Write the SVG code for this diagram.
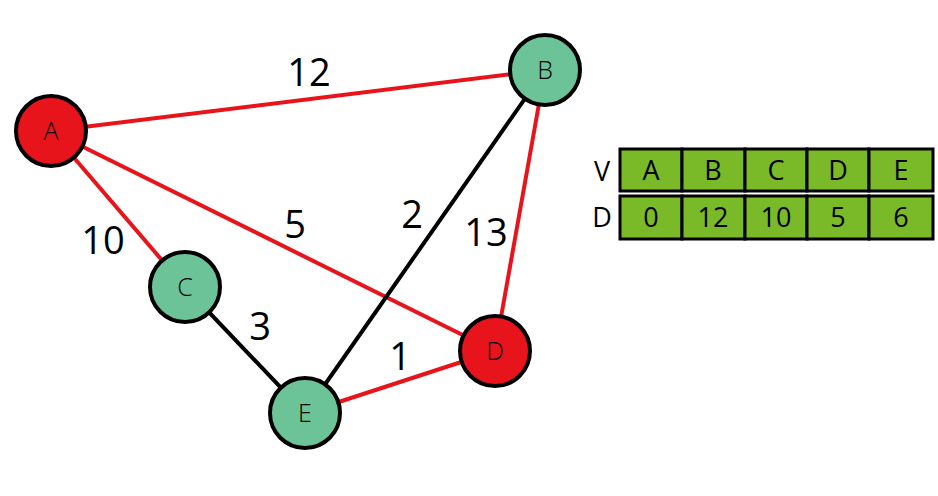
<svg xmlns="http://www.w3.org/2000/svg" width="938" height="496" viewBox="0 0 938 496">
<style>
.e{stroke-width:4;fill:none}
.r{stroke:#e8141c}
.k{stroke:#000}
.n{stroke:#000;stroke-width:4}
.red{fill:#e8141c}
.grn{fill:#6cc398}
.nl{font-family:"Open Sans",sans-serif;font-size:25px;font-weight:300;text-anchor:middle;fill:#000}
.el{font-family:"Open Sans",sans-serif;font-size:38px;text-anchor:middle;fill:#000}
.c{fill:#7aba28;stroke:#000;stroke-width:3}
.t{font-family:"Open Sans",sans-serif;font-size:27px;text-anchor:middle;fill:#000}
</style>
<rect width="938" height="496" fill="#fff"/>
<g id="connectors">
<line class="e r" x1="51" y1="131" x2="545" y2="70"/>
<line class="e r" x1="51" y1="131" x2="185" y2="287"/>
<line class="e r" x1="51" y1="131" x2="495" y2="351"/>
<line class="e r" x1="545" y1="70" x2="495" y2="351"/>
<line class="e r" x1="305" y1="413" x2="495" y2="351"/>
<line class="e k" x1="545" y1="70" x2="305" y2="413"/>
<line class="e k" x1="185" y1="287" x2="305" y2="413"/>
</g>
<g id="edge-labels">
<text class="el" x="309" y="86">12</text>
<text class="el" x="103" y="254">10</text>
<text class="el" x="295" y="238">5</text>
<text class="el" x="412" y="228">2</text>
<text class="el" x="486" y="246">13</text>
<text class="el" x="260" y="340">3</text>
<text class="el" x="400" y="370">1</text>
</g>
<g id="node-A"><circle class="n red" cx="51" cy="131" r="35"/><text class="nl" x="51" y="140">A</text></g>
<g id="node-B"><circle class="n grn" cx="545" cy="70" r="35"/><text class="nl" x="545" y="79">B</text></g>
<g id="node-C"><circle class="n grn" cx="185" cy="287" r="35"/><text class="nl" x="185" y="296">C</text></g>
<g id="node-D"><circle class="n red" cx="495" cy="351" r="35"/><text class="nl" x="495" y="360">D</text></g>
<g id="node-E"><circle class="n grn" cx="305" cy="413" r="35"/><text class="nl" x="305" y="422">E</text></g>
<g id="table">
<text class="t" x="602" y="181">V</text>
<text class="t" x="602" y="227">D</text>
<rect class="c" x="620" y="149" width="62" height="42"/>
<rect class="c" x="682" y="149" width="63" height="42"/>
<rect class="c" x="745" y="149" width="62" height="42"/>
<rect class="c" x="807" y="149" width="62" height="42"/>
<rect class="c" x="869" y="149" width="64" height="42"/>
<rect class="c" x="620" y="196" width="62" height="43"/>
<rect class="c" x="682" y="196" width="63" height="43"/>
<rect class="c" x="745" y="196" width="62" height="43"/>
<rect class="c" x="807" y="196" width="62" height="43"/>
<rect class="c" x="869" y="196" width="64" height="43"/>
<text class="t" x="651" y="180">A</text>
<text class="t" x="713" y="180">B</text>
<text class="t" x="776" y="180">C</text>
<text class="t" x="838" y="180">D</text>
<text class="t" x="901" y="180">E</text>
<text class="t" x="651" y="227">0</text>
<text class="t" x="713" y="227">12</text>
<text class="t" x="776" y="227">10</text>
<text class="t" x="838" y="227">5</text>
<text class="t" x="901" y="227">6</text>
</g>
</svg>
